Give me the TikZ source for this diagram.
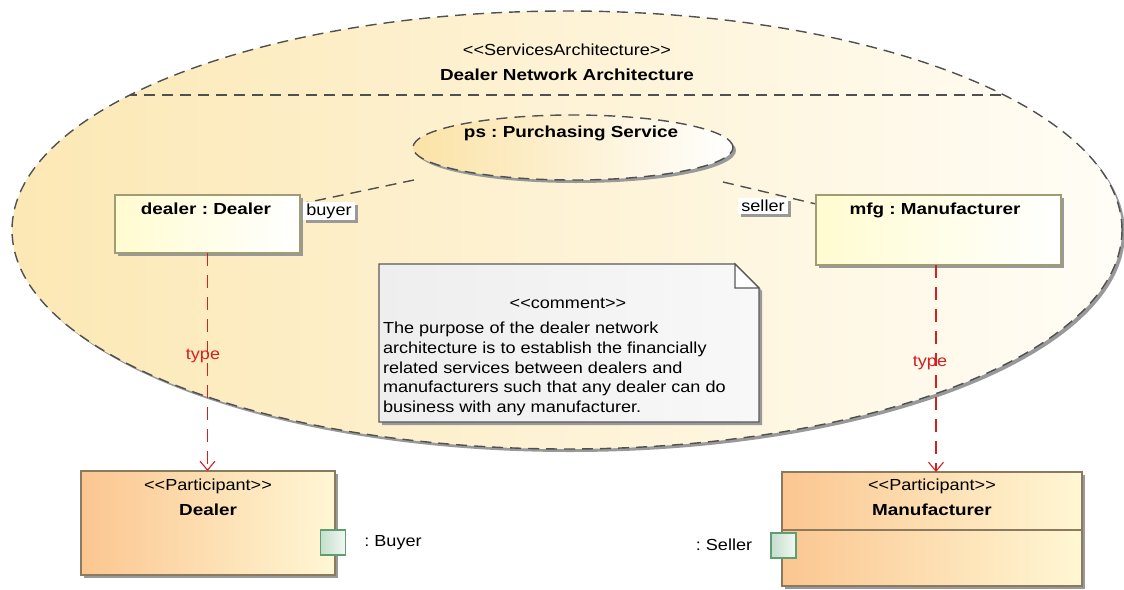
\documentclass[tikz,border=0pt]{standalone}
\usepackage{fontspec}
\setmainfont{Liberation Sans}[FakeStretch=1.13,BoldFeatures={FakeStretch=1.18}]
\usetikzlibrary{shapes.geometric,arrows.meta,shadows,calc}
\definecolor{archL}{HTML}{FCE8B4}
\definecolor{archR}{HTML}{FFFDF6}
\definecolor{psL}{HTML}{FBE3A6}
\definecolor{dashc}{HTML}{505050}
\definecolor{partL}{HTML}{FFFCD0}
\definecolor{partB}{HTML}{A09C74}
\definecolor{partiL}{HTML}{FBC690}
\definecolor{partiR}{HTML}{FFF7D4}
\definecolor{partiB}{HTML}{8C7A5E}
\definecolor{depc}{HTML}{D32020}
\definecolor{noteL}{HTML}{EEEEEE}
\definecolor{noteR}{HTML}{F8F8F8}
\definecolor{portL}{HTML}{C4DECC}
\definecolor{portR}{HTML}{F2F8F4}
\definecolor{portB}{HTML}{5E9E72}
\frenchspacing
\begin{document}
\begin{tikzpicture}[x=1pt,y=-1pt,
  every node/.style={font=\fontsize{16}{19.7}\selectfont, inner sep=0pt, outer sep=0pt},
  btxt/.style={font=\fontsize{16}{19.7}\selectfont\bfseries},
  shadowed/.style={drop shadow={shadow xshift=3pt,shadow yshift=-3pt,fill=black!40,opacity=1}},
  outline/.style={draw=dashc, line width=1.4pt, dash pattern=on 11pt off 7pt},
  partbox/.style={rectangle, draw=partB, line width=1.1pt, left color=partL, right color=white, shadowed},
  participant/.style={rectangle, draw=partiB, line width=1.1pt, left color=partiL, right color=partiR, shadowed},
  portbox/.style={rectangle, draw=portB, line width=1.1pt, left color=portL, right color=portR, minimum size=25pt},
  rolelabel/.style={fill=white, inner xsep=3pt, inner ysep=2pt, shadowed},
  dep/.style={draw=depc, line width=1.1pt, dash pattern=on 13pt off 9pt, -{Straight Barb[length=9pt,width=15pt,line width=1.1pt]}},
  deplabel/.style={text=depc},
]
\useasboundingbox (0,0) rectangle (1124,589);

% services architecture (big ellipse)
\node[ellipse, outline, left color=archL, right color=archR, minimum width=1110pt, minimum height=438pt, shadowed] (arch) at (567,230) {};
\begin{scope}
  \clip (567,230) ellipse [x radius=555pt, y radius=219pt];
  \draw[outline] (0,95) -- (1124,95);
\end{scope}
\node (archst) at (567,50) {{<}{<}ServicesArchitecture{>}{>}};
\node[btxt] (archname) at (567,75) {Dealer Network Architecture};

% role connectors
\coordinate (psLend) at (414,180);
\coordinate (dealerE) at (300,204);
\coordinate (psRend) at (723,182);
\coordinate (mfgW) at (816,204);
\draw[outline] (psLend) -- (dealerE);
\draw[outline] (psRend) -- (mfgW);

% purchasing service collaboration use
\node[ellipse, outline, left color=psL, right color=white, minimum width=320pt, minimum height=65pt, shadowed] (ps) at (573,147.5) {};
\node[btxt] (pslabel) at (571,133) {ps : Purchasing Service};

% parts
\node[partbox, minimum width=185pt, minimum height=58pt] (dealer) at (207.5,224) {};
\node[btxt] (dealerlabel) at (206,209) {dealer : Dealer};
\node[partbox, minimum width=245pt, minimum height=70pt] (mfg) at (938.5,230) {};
\node[btxt] (mfglabel) at (935,210) {mfg : Manufacturer};

\node[rolelabel] (buyer) at (329,211) {buyer};
\node[rolelabel] (seller) at (763,206) {seller};

% comment note
\fill[black!40] (382,267) -- (738,267) -- (762,291) -- (762,425) -- (382,425) -- cycle;
\draw[draw=black!65, line width=1.1pt, left color=noteL, right color=noteR]
  (379,264) -- (735,264) -- (759,288) -- (759,422) -- (379,422) -- cycle;
\draw[draw=black!65, line width=1.1pt, fill=white] (735,264) -- (735,288) -- (759,288) -- cycle;
\node (notest) at (568,303) {{<}{<}comment{>}{>}};
\node[anchor=north west, align=left] (notebody) at (383,322.3) {The purpose of the dealer network\\architecture is to establish the financially\\related services between dealers and\\manufacturers such that any dealer can do\\business with any manufacturer.};

% participants
\node[participant, minimum width=254pt, minimum height=104pt] (dealerP) at (208,523) {};
\node (dealerPst) at (208,486) {{<}{<}Participant{>}{>}};
\node[btxt] (dealerPname) at (208,510) {Dealer};
\node[participant, minimum width=300pt, minimum height=114pt] (mfgP) at (932,529) {};
\draw[draw=partiB, line width=1.1pt] (mfgP.west |- 0,530) -- (mfgP.east |- 0,530);
\node (mfgPst) at (932,486) {{<}{<}Participant{>}{>}};
\node[btxt] (mfgPname) at (932,510) {Manufacturer};

% ports
\node[portbox] (buyerport) at (333,542.5) {};
\node (buyerportlabel) at (393,543) {: Buyer};
\node[portbox] (sellerport) at (783.5,545.5) {};
\node (sellerportlabel) at (724,545) {: Seller};

% type dependencies
\coordinate (depRtop) at (936,265);
\draw[dep] (dealer.south) -- (dealer.south |- dealerP.north);
\draw[dep] (depRtop) -- (depRtop |- mfgP.north);
\node[deplabel] (typeL) at (203,356) {type};
\node[deplabel] (typeR) at (930,363) {type};
\end{tikzpicture}
\end{document}
